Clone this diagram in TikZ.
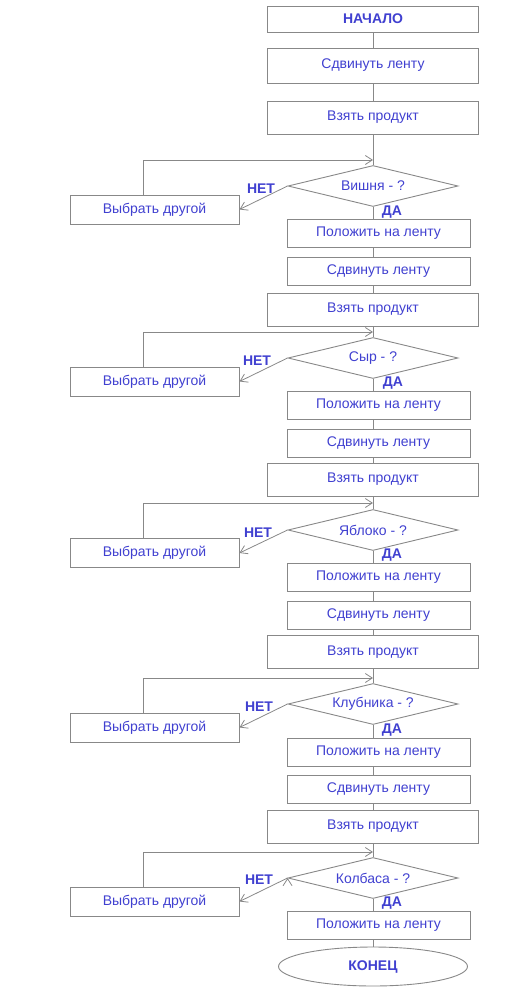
\documentclass[tikz,border=0pt]{standalone}
\usepackage{fontspec}
\setmainfont{Liberation Sans}
\usetikzlibrary{shapes.geometric,arrows.meta,positioning}
\definecolor{txtblue}{RGB}{64,64,208}
\definecolor{linegray}{RGB}{136,136,136}
\newcommand{\fsz}{\fontsize{14}{16}\selectfont}
\newcommand{\lyes}{\textbf{ДА}}
\newcommand{\lno}{\textbf{НЕТ}}
\begin{document}
\begin{tikzpicture}[x=1pt,y=-1pt]
\tikzstyle{proc}=[rectangle, draw=linegray, line width=0.9pt, text=txtblue, inner sep=0pt, font=\fsz]
\tikzstyle{wide}=[proc, minimum width=211pt, minimum height=33pt]
\tikzstyle{narrow}=[proc, minimum width=183pt, minimum height=28pt]
\tikzstyle{pick}=[proc, minimum width=169pt, minimum height=29pt]
\tikzstyle{test}=[diamond, aspect=4.15, draw=linegray, line width=0.9pt, text=txtblue, inner sep=0pt, minimum width=170pt, minimum height=41pt, font=\fsz]
\tikzstyle{answer}=[text=txtblue, inner sep=0pt, font=\fsz]
\tikzstyle{link}=[draw=linegray, line width=0.9pt]
\tikzstyle{connect}=[-{Straight Barb[length=7pt,width=9pt]}, draw=linegray, line width=0.8pt]

	\useasboundingbox (0,0) rectangle (523,1000);
	\pgfmathsetmacro{\xm}{373};
	\pgfmathsetmacro{\xn}{378.5};
	\pgfmathsetmacro{\xp}{154.5};

	\node[wide, minimum height=26pt] (start) at (\xm,19) {\textbf{НАЧАЛО}};
	\node[wide, minimum height=35pt] (sh0) at (\xm,65.5) {Сдвинуть ленту};
	\node[wide] (tk1) at (\xm,117.5) {Взять продукт};

	\coordinate (j1) at (\xm,160);
	\node[test] (q1) at (\xm,186) {Вишня - ?};
	\node[pick] (pk1) at (\xp,209.5) {Выбрать другой};
	\node[answer] (no1) at (261,189) {\lno};
	\node[answer] (yes1) at (392,212) {\lyes};
	\node[narrow] (pt1) at (\xn,233.5) {Положить на ленту};
	\node[narrow] (sh1) at (\xn,271) {Сдвинуть ленту};
	\node[wide] (tk2) at (\xm,309.5) {Взять продукт};

	\coordinate (j2) at (\xm,332);
	\node[test] (q2) at (\xm,358) {Сыр - ?};
	\node[pick] (pk2) at (\xp,381.5) {Выбрать другой};
	\node[answer] (no2) at (257,361) {\lno};
	\node[answer] (yes2) at (393,383) {\lyes};
	\node[narrow] (pt2) at (\xn,405) {Положить на ленту};
	\node[narrow] (sh2) at (\xn,443) {Сдвинуть ленту};
	\node[wide] (tk3) at (\xm,479.5) {Взять продукт};

	\coordinate (j3) at (\xm,503);
	\node[test] (q3) at (\xm,530) {Яблоко - ?};
	\node[pick] (pk3) at (\xp,553) {Выбрать другой};
	\node[answer] (no3) at (258,533) {\lno};
	\node[answer] (yes3) at (392,555) {\lyes};
	\node[narrow] (pt3) at (\xn,577) {Положить на ленту};
	\node[narrow] (sh3) at (\xn,615.5) {Сдвинуть ленту};
	\node[wide] (tk4) at (\xm,652) {Взять продукт};

	\coordinate (j4) at (\xm,678);
	\node[test] (q4) at (\xm,704) {Клубника - ?};
	\node[pick] (pk4) at (\xp,727.5) {Выбрать другой};
	\node[answer] (no4) at (259,707) {\lno};
	\node[answer] (yes4) at (392,730) {\lyes};
	\node[narrow] (pt4) at (\xn,752) {Положить на ленту};
	\node[narrow] (sh4) at (\xn,789.5) {Сдвинуть ленту};
	\node[wide] (tk5) at (\xm,826.5) {Взять продукт};

	\coordinate (j5) at (\xm,852);
	\node[test] (q5) at (\xm,878) {Колбаса - ?};
	\node[pick] (pk5) at (\xp,901.5) {Выбрать другой};
	\node[answer] (no5) at (259,880) {\lno};
	\node[answer] (yes5) at (392,903) {\lyes};
	\node[narrow] (pt5) at (\xn,925) {Положить на ленту};
	\node[ellipse, draw=linegray, line width=0.9pt, text=txtblue, inner sep=0pt, minimum width=189pt, minimum height=39pt, font=\fsz] (end) at (\xm,966.5) {\textbf{КОНЕЦ}};

	\path[link]
		(start) edge (sh0)
		(sh0) edge (tk1)
		(tk1) edge (q1)
		(q1) edge (q1 |- pt1.north)
		(pt1.south -| q1) edge (sh1.north -| q1)
		(sh1.south -| q1) edge (tk2)
		(tk2) edge (q2)
		(q2) edge (q2 |- pt2.north)
		(pt2.south -| q2) edge (sh2.north -| q2)
		(sh2.south -| q2) edge (tk3)
		(tk3) edge (q3)
		(q3) edge (q3 |- pt3.north)
		(pt3.south -| q3) edge (sh3.north -| q3)
		(sh3.south -| q3) edge (tk4)
		(tk4) edge (q4)
		(q4) edge (q4 |- pt4.north)
		(pt4.south -| q4) edge (sh4.north -| q4)
		(sh4.south -| q4) edge (tk5)
		(tk5) edge (q5)
		(q5) edge (q5 |- pt5.north)
		(pt5.south -| q5) edge (end);

	\path[connect]
		(q1.west) edge (pk1.east)
		(q2.west) edge (pk2.east)
		(q3.west) edge (pk3.east)
		(q4.west) edge (pk4.east)
		(q5.west) edge (pk5.east);

	\draw[connect] ([xshift=-11.5pt]pk1.north) |- (j1);
	\draw[connect] ([xshift=-11.5pt]pk2.north) |- (j2);
	\draw[connect] ([xshift=-11.5pt]pk3.north) |- (j3);
	\draw[connect] ([xshift=-11.5pt]pk4.north) |- (j4);
	\draw[connect] ([xshift=-11.5pt]pk5.north) |- (j5);

\end{tikzpicture}
\end{document}
